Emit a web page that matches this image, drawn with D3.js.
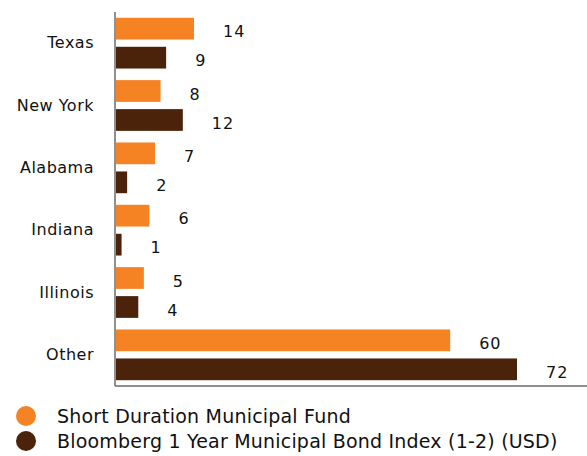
<!DOCTYPE html>
<html>
<head>
<meta charset="utf-8">
<script src="https://cdn.jsdelivr.net/npm/d3@7"></script>
<style>
  body { margin: 0; background: #fff; }
  text { font-family: "DejaVu Sans", Verdana, sans-serif; fill: #111; }
</style>
</head>
<body>
<script>
var categories = ['Texas', 'New York', 'Alabama', 'Indiana', 'Illinois', 'Other'];
var fundValues = [14, 8, 7, 6, 5, 60];
var indexValues = [9, 12, 2, 1, 4, 72];
var seriesNames = ['Short Duration Municipal Fund', 'Bloomberg 1 Year Municipal Bond Index (1-2) (USD)'];
var seriesColors = ['#f58223', '#4a230a'];

var width = 587, height = 456;
var plotLeft = 116, plotTop = 12, plotBottom = 386;

var svg = d3.select('body')
  .append('svg')
    .attr('width', width)
    .attr('height', height);

var x = d3.scaleLinear()
  .domain([0, 72])
  .range([plotLeft, 517]);

var y = d3.scaleBand()
  .domain(categories)
  .range([plotTop, plotBottom]);

var inner = d3.scaleBand()
  .domain([0, 1])
  .range([0, y.bandwidth()])
  .paddingInner(0.25)
  .paddingOuter(0.2);

var rows = categories.map(function(c, i) {
  return { cat: c, vals: [fundValues[i], indexValues[i]] };
});

var groups = svg.selectAll('g.row')
  .data(rows)
  .enter()
  .append('g')
    .attr('class', 'row')
    .attr('transform', function(d) { return 'translate(0,' + y(d.cat) + ')'; });

groups.selectAll('rect')
  .data(function(d) { return d.vals; })
  .enter()
  .append('rect')
    .attr('x', x(0))
    .attr('y', function(d, i) { return inner(i); })
    .attr('width', function(d) { return x(d) - x(0); })
    .attr('height', inner.bandwidth())
    .attr('fill', function(d, i) { return seriesColors[i]; });

groups.selectAll('text.val')
  .data(function(d) { return d.vals; })
  .enter()
  .append('text')
    .attr('class', 'val')
    .attr('x', function(d) { return x(d) + 29; })
    .attr('y', function(d, i) { return inner(i) + inner.bandwidth() / 2 + 3; })
    .attr('dy', '0.35em')
    .attr('font-size', 16)
    .attr('letter-spacing', 1)
    .text(function(d) { return d; });

// category labels
var yAxis = svg.append('g')
  .attr('transform', 'translate(' + (plotLeft - 1) + ',0)')
  .call(d3.axisLeft(y).tickSize(0).tickPadding(21));
yAxis.select('.domain').remove();
yAxis.selectAll('text')
  .attr('font-size', 16)
  .attr('letter-spacing', 0.5)
  .attr('fill', '#111')
  .style('font-family', '"DejaVu Sans", Verdana, sans-serif');

// axis lines
svg.append('line')
  .attr('x1', plotLeft - 1).attr('x2', plotLeft - 1)
  .attr('y1', plotTop).attr('y2', plotBottom)
  .attr('stroke', '#6b6b6b').attr('stroke-width', 1.5);
svg.append('line')
  .attr('x1', plotLeft - 1).attr('x2', width)
  .attr('y1', plotBottom).attr('y2', plotBottom)
  .attr('stroke', '#6b6b6b').attr('stroke-width', 1.5);

// legend
var legend = svg.selectAll('g.legend')
  .data(seriesNames)
  .enter()
  .append('g')
    .attr('class', 'legend')
    .attr('transform', function(d, i) { return 'translate(26,' + (416 + i * 25) + ')'; });

legend.append('circle')
  .attr('r', 10)
  .attr('fill', function(d, i) { return seriesColors[i]; });

legend.append('text')
  .attr('x', 31)
  .attr('dy', '0.35em')
  .attr('font-size', 19)
  .attr('letter-spacing', 0.2)
  .text(function(d) { return d; });
</script>
</body>
</html>
